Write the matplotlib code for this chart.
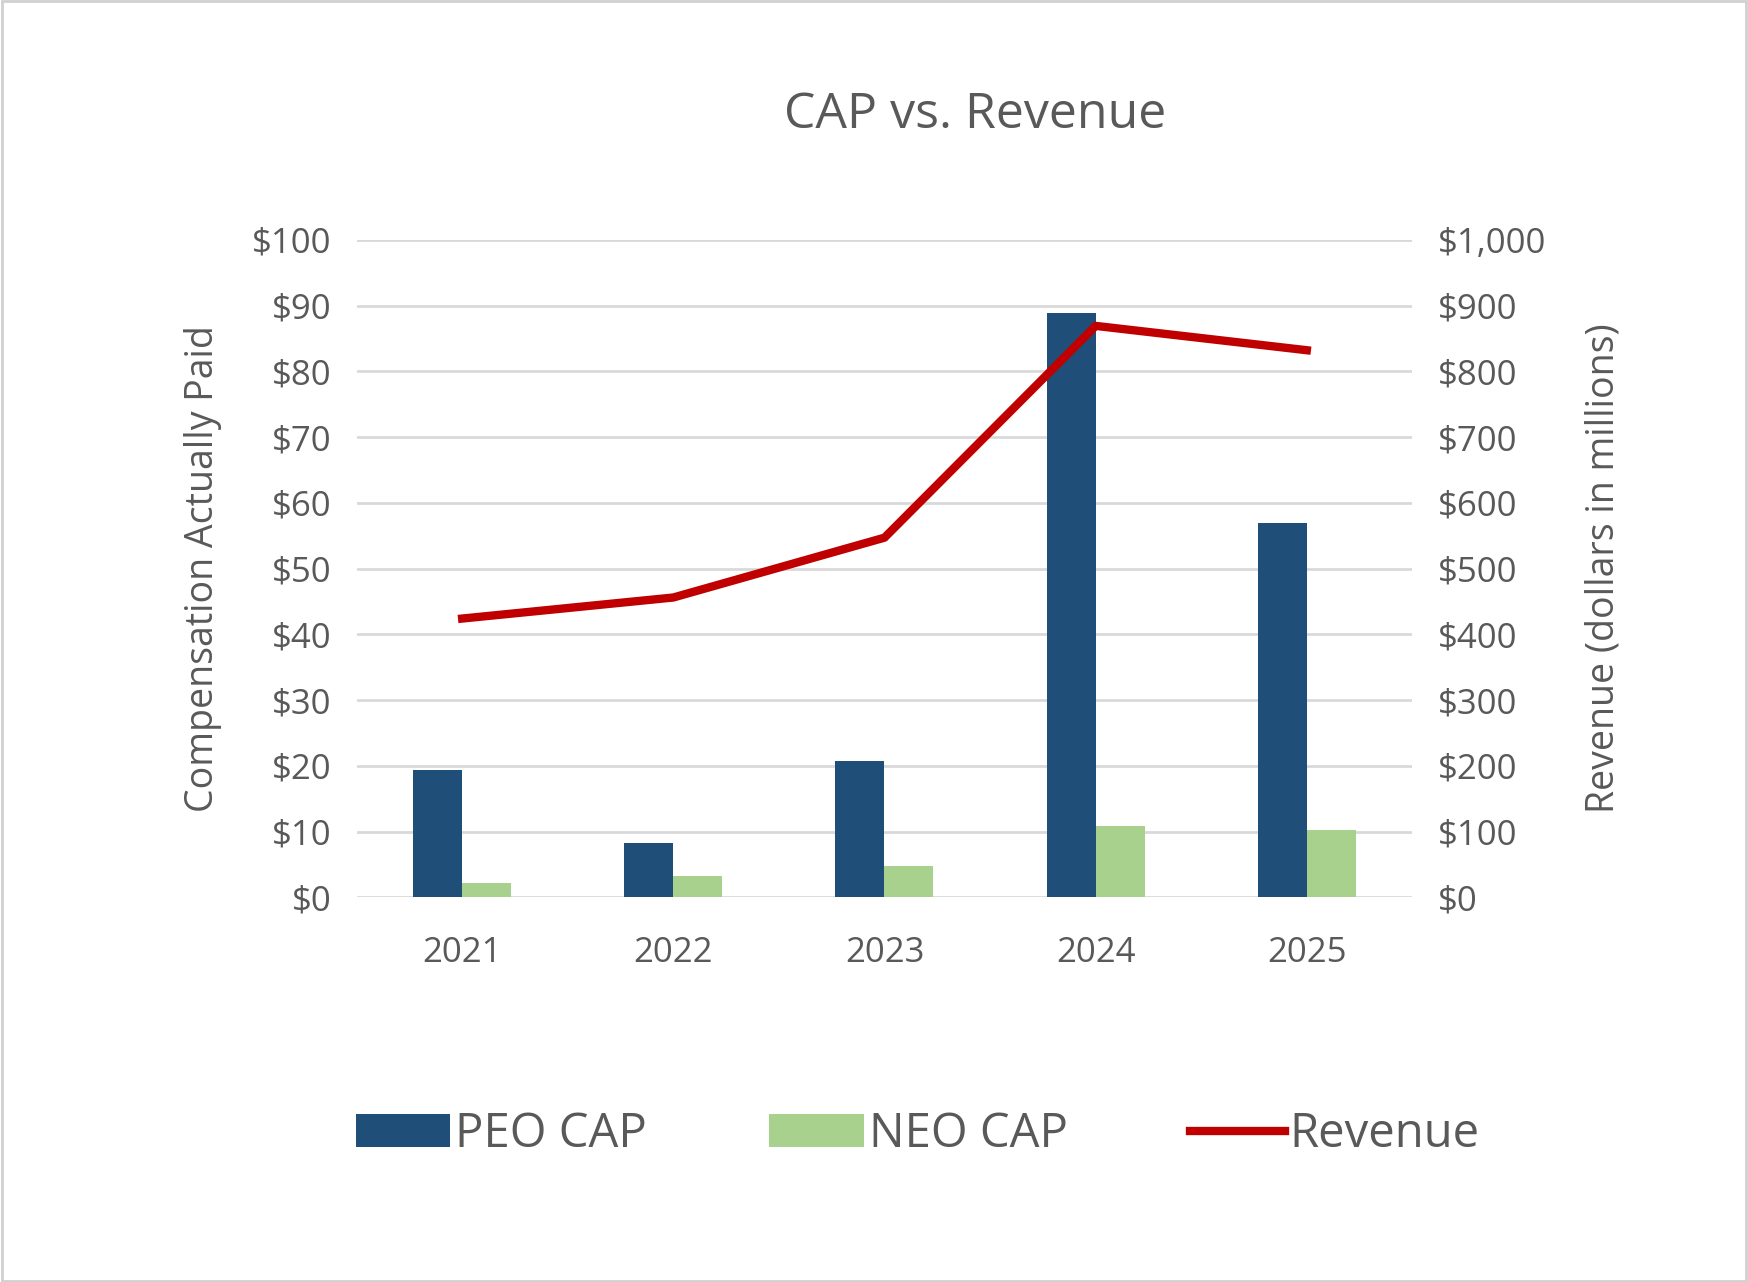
import matplotlib
matplotlib.use("Agg")
import matplotlib.pyplot as plt
import numpy as np
from matplotlib.patches import Rectangle

years = ["2021", "2022", "2023", "2024", "2025"]
peo_cap = [19.3, 8.3, 20.7, 88.8, 57.0]
neo_cap = [2.2, 3.3, 4.7, 10.8, 10.3]
revenue = [424, 456, 547, 869, 832]

plt.rcParams['font.family'] = ['Open Sans', 'DejaVu Sans']
gray = '#595959'
fig = plt.figure(figsize=(17.48, 12.82), dpi=100)
fig.patches.append(Rectangle((0.001, 0.001), 0.998, 0.998, transform=fig.transFigure,
                             fill=False, edgecolor='#d0d0d0', linewidth=2))
ax = fig.add_axes([0.204, 0.300, 0.604, 0.513])
x = np.arange(len(years))
w = 0.232
ax.bar(x - w/2, peo_cap, w, color='#1f4e79', label='PEO CAP', zorder=3)
ax.bar(x + w/2, neo_cap, w, color='#a9d18e', label='NEO CAP', zorder=3)
ax.set_ylim(0, 100)
ax.set_xlim(-0.5, 4.5)
ax.set_yticks(range(0, 101, 10))
ax.set_yticklabels([f"${v}" for v in range(0, 101, 10)])
ax.set_xticks(x)
ax.set_xticklabels(years)
ax.grid(axis='y', color='#d9d9d9', linewidth=2, zorder=0)
for s in ax.spines.values():
    s.set_visible(False)
ax.tick_params(length=0, labelsize=25, colors=gray, pad=18)
ax.tick_params(axis='x', pad=28)
ax.set_ylabel('Compensation Actually Paid', fontsize=27, color=gray, labelpad=22)

ax2 = ax.twinx()
ax2.plot(x, revenue, color='#c00000', linewidth=6, label='Revenue', zorder=4)
ax2.set_ylim(0, 1000)
ax2.set_yticks(range(0, 1001, 100))
ax2.set_yticklabels([f"${v:,}" for v in range(0, 1001, 100)])
for s in ax2.spines.values():
    s.set_visible(False)
ax2.tick_params(length=0, labelsize=25, colors=gray, pad=18)
ax2.set_ylabel('Revenue (dollars in millions)', fontsize=27, color=gray, labelpad=28)

fig.text(0.558, 0.91, 'CAP vs. Revenue', ha='center', va='center', fontsize=36, color=gray)
h1, l1 = ax.get_legend_handles_labels()
h2, l2 = ax2.get_legend_handles_labels()
fig.legend(h1 + h2, l1 + l2, loc='center', bbox_to_anchor=(0.525, 0.115), ncol=3,
           frameon=False, fontsize=34, labelcolor=gray, handlelength=2.0,
           handleheight=0.7, columnspacing=2.6, handletextpad=0.1)
fig.savefig('out.png', dpi=100)
